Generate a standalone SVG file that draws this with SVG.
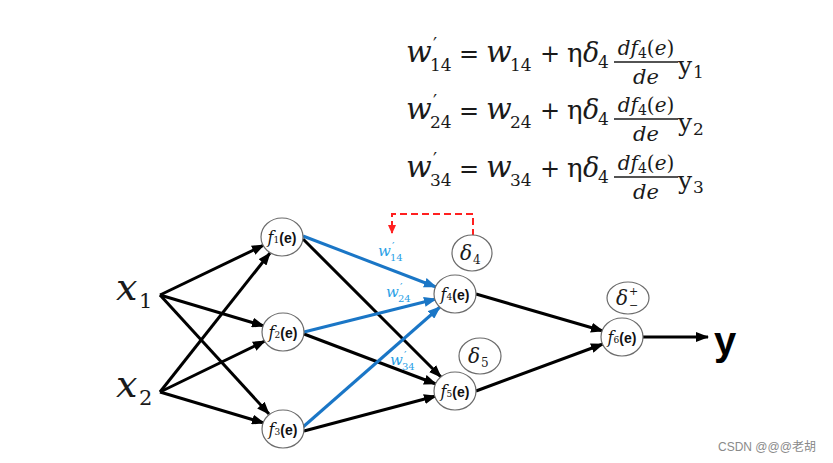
<svg xmlns="http://www.w3.org/2000/svg" width="833" height="463" viewBox="0 0 833 463">
<style>
.node{fill:#fff;stroke:#6b6b6b;stroke-width:1.2}
.blk{stroke:#000;stroke-width:3;fill:none;marker-end:url(#ab)}
.blu{stroke:#1a76c6;stroke-width:3;fill:none;marker-end:url(#au)}
.m{font-family:"DejaVu Serif","Liberation Serif",serif;fill:#1a1a1a}
.i{font-style:italic}
.n{font-style:normal}
.lbl{font-family:"DejaVu Serif",serif;font-size:14px;fill:#111}
.e{font-family:"Liberation Sans",Arial,sans-serif;font-weight:bold;font-style:normal}
.wl{font-family:"DejaVu Serif",serif;fill:#2a9fe6}
.fl{stroke:#1a1a1a;stroke-width:1.5}
</style>
<defs>
<marker id="ab" markerUnits="userSpaceOnUse" markerWidth="13" markerHeight="10" refX="12" refY="5" orient="auto"><path d="M0,0 L13,5 L0,10 z" fill="#000"/></marker>
<marker id="au" markerUnits="userSpaceOnUse" markerWidth="13" markerHeight="10" refX="12" refY="5" orient="auto"><path d="M0,0 L13,5 L0,10 z" fill="#1a76c6"/></marker>
<marker id="ar" markerUnits="userSpaceOnUse" markerWidth="9" markerHeight="8" refX="8" refY="4" orient="auto"><path d="M0,0 L9,4 L0,8 z" fill="#ff2020"/></marker>
</defs>
<rect width="833" height="463" fill="#fff"/>

<g id="equations" class="m">
<g id="eq1">
<text class="i" font-size="30"><tspan x="406" y="62">w</tspan><tspan class="n" x="433" y="51" font-size="18">′</tspan><tspan class="n" x="430" y="71" font-size="17">14</tspan></text>
<text x="459" y="62" font-size="24">=</text>
<text class="i" font-size="30"><tspan x="486" y="62">w</tspan><tspan class="n" x="510" y="71" font-size="17">14</tspan></text>
<text x="540" y="62" font-size="24">+</text>
<text font-size="26"><tspan x="567" y="62">η</tspan><tspan class="i" x="583" y="62" font-size="27">δ</tspan><tspan x="598" y="68" font-size="17">4</tspan></text>
<text x="646" y="55" font-size="20" text-anchor="middle"><tspan class="i">df</tspan><tspan font-size="14" dy="3">4</tspan><tspan dy="-3">(</tspan><tspan class="i">e</tspan>)</text>
<line class="fl" x1="614" y1="62" x2="678" y2="62"/>
<text x="646" y="84" font-size="21" text-anchor="middle" class="i">de</text>
<text font-size="25"><tspan x="678" y="74">y</tspan><tspan x="693" y="78" font-size="17">1</tspan></text>
</g>
<g id="eq2">
<text class="i" font-size="30"><tspan x="406" y="119">w</tspan><tspan class="n" x="433" y="108" font-size="18">′</tspan><tspan class="n" x="430" y="128" font-size="17">24</tspan></text>
<text x="459" y="119" font-size="24">=</text>
<text class="i" font-size="30"><tspan x="486" y="119">w</tspan><tspan class="n" x="510" y="128" font-size="17">24</tspan></text>
<text x="540" y="119" font-size="24">+</text>
<text font-size="26"><tspan x="567" y="119">η</tspan><tspan class="i" x="583" y="119" font-size="27">δ</tspan><tspan x="598" y="125" font-size="17">4</tspan></text>
<text x="646" y="112" font-size="20" text-anchor="middle"><tspan class="i">df</tspan><tspan font-size="14" dy="3">4</tspan><tspan dy="-3">(</tspan><tspan class="i">e</tspan>)</text>
<line class="fl" x1="614" y1="119" x2="678" y2="119"/>
<text x="646" y="141" font-size="21" text-anchor="middle" class="i">de</text>
<text font-size="25"><tspan x="678" y="131">y</tspan><tspan x="693" y="135" font-size="17">2</tspan></text>
</g>
<g id="eq3">
<text class="i" font-size="30"><tspan x="406" y="177">w</tspan><tspan class="n" x="433" y="166" font-size="18">′</tspan><tspan class="n" x="430" y="186" font-size="17">34</tspan></text>
<text x="459" y="177" font-size="24">=</text>
<text class="i" font-size="30"><tspan x="486" y="177">w</tspan><tspan class="n" x="510" y="186" font-size="17">34</tspan></text>
<text x="540" y="177" font-size="24">+</text>
<text font-size="26"><tspan x="567" y="177">η</tspan><tspan class="i" x="583" y="177" font-size="27">δ</tspan><tspan x="598" y="183" font-size="17">4</tspan></text>
<text x="646" y="170" font-size="20" text-anchor="middle"><tspan class="i">df</tspan><tspan font-size="14" dy="3">4</tspan><tspan dy="-3">(</tspan><tspan class="i">e</tspan>)</text>
<line class="fl" x1="614" y1="177" x2="678" y2="177"/>
<text x="646" y="199" font-size="21" text-anchor="middle" class="i">de</text>
<text font-size="25"><tspan x="678" y="189">y</tspan><tspan x="693" y="193" font-size="17">3</tspan></text>
</g>
</g>

<g id="connectors">
<line class="blk" x1="160" y1="295" x2="264" y2="245"/>
<line class="blk" x1="160" y1="295" x2="264" y2="326"/>
<line class="blk" x1="160" y1="295" x2="269" y2="414"/>
<line class="blk" x1="160" y1="392" x2="270" y2="253"/>
<line class="blk" x1="160" y1="392" x2="265" y2="341"/>
<line class="blk" x1="160" y1="392" x2="264" y2="423"/>
<line class="blk" x1="303" y1="239" x2="441" y2="377"/>
<line class="blk" x1="304" y1="334" x2="436" y2="384"/>
<line class="blk" x1="304" y1="431" x2="436" y2="396"/>
<line class="blu" x1="303" y1="236" x2="436" y2="287"/>
<line class="blu" x1="304" y1="332" x2="436" y2="299"/>
<line class="blu" x1="303" y1="427" x2="440" y2="307"/>
<line class="blk" x1="476" y1="294" x2="603" y2="331"/>
<line class="blk" x1="476" y1="391" x2="603" y2="344"/>
<line class="blk" x1="643" y1="337" x2="708" y2="337"/>
<path d="M473,236 V214 H392 V233" fill="none" stroke="#ff2020" stroke-width="2" stroke-dasharray="7,4" marker-end="url(#ar)"/>
<g id="wlabels" class="wl">
<text class="i" font-size="15"><tspan x="378" y="256">w</tspan><tspan class="n" x="392" y="250" font-size="11">′</tspan><tspan class="n" x="390" y="261" font-size="10">14</tspan></text>
<text class="i" font-size="15"><tspan x="386" y="297">w</tspan><tspan class="n" x="400" y="291" font-size="11">′</tspan><tspan class="n" x="398" y="302" font-size="10">24</tspan></text>
<text class="i" font-size="15"><tspan x="390" y="365">w</tspan><tspan class="n" x="404" y="359" font-size="11">′</tspan><tspan class="n" x="402" y="370" font-size="10">34</tspan></text>
</g>
</g>

<g id="x1"><text class="m" font-size="38"><tspan class="i" x="116" y="300">x</tspan><tspan x="139" y="308" font-size="21">1</tspan></text></g>
<g id="x2"><text class="m" font-size="38"><tspan class="i" x="116" y="397">x</tspan><tspan x="139" y="405" font-size="21">2</tspan></text></g>

<g id="f1"><ellipse class="node" cx="282" cy="237" rx="21" ry="19"/><text class="lbl" x="282" y="243" text-anchor="middle"><tspan class="i" font-size="16">f</tspan><tspan font-size="9">1</tspan><tspan class="e" font-size="14">(e)</tspan></text></g>
<g id="f2"><ellipse class="node" cx="283" cy="332" rx="21" ry="19"/><text class="lbl" x="283" y="338" text-anchor="middle"><tspan class="i" font-size="16">f</tspan><tspan font-size="9">2</tspan><tspan class="e" font-size="14">(e)</tspan></text></g>
<g id="f3"><ellipse class="node" cx="283" cy="429" rx="21" ry="19"/><text class="lbl" x="283" y="435" text-anchor="middle"><tspan class="i" font-size="16">f</tspan><tspan font-size="9">3</tspan><tspan class="e" font-size="14">(e)</tspan></text></g>
<g id="f4"><ellipse class="node" cx="455" cy="294" rx="21" ry="19"/><text class="lbl" x="455" y="300" text-anchor="middle"><tspan class="i" font-size="16">f</tspan><tspan font-size="9">4</tspan><tspan class="e" font-size="14">(e)</tspan></text></g>
<g id="f5"><ellipse class="node" cx="455" cy="391" rx="21" ry="19"/><text class="lbl" x="455" y="397" text-anchor="middle"><tspan class="i" font-size="16">f</tspan><tspan font-size="9">5</tspan><tspan class="e" font-size="14">(e)</tspan></text></g>
<g id="f6"><ellipse class="node" cx="622" cy="337" rx="21" ry="19"/><text class="lbl" x="622" y="343" text-anchor="middle"><tspan class="i" font-size="16">f</tspan><tspan font-size="9">6</tspan><tspan class="e" font-size="14">(e)</tspan></text></g>

<g id="d4"><ellipse class="node" cx="472" cy="253" rx="20" ry="18"/><text class="m" font-size="20"><tspan class="i" x="460" y="260">δ</tspan><tspan x="473" y="264" font-size="12">4</tspan></text></g>
<g id="d5"><ellipse class="node" cx="480" cy="356" rx="21" ry="18"/><text class="m" font-size="20"><tspan class="i" x="468" y="363">δ</tspan><tspan x="481" y="367" font-size="12">5</tspan></text></g>
<g id="d6"><ellipse class="node" cx="628" cy="298" rx="21" ry="16"/><text class="m" font-size="20"><tspan class="i" x="616" y="305">δ</tspan><tspan x="629" y="295" font-size="11">+</tspan><tspan x="629" y="309" font-size="11">−</tspan></text></g>

<g id="y"><text x="714" y="355" font-family="Liberation Sans,Arial,sans-serif" font-weight="bold" font-size="40" fill="#000">y</text></g>

<text x="718" y="451" font-family="Liberation Sans,'Noto Sans CJK SC',sans-serif" font-size="12" fill="#8a8a8a">CSDN @@@老胡</text>
</svg>
